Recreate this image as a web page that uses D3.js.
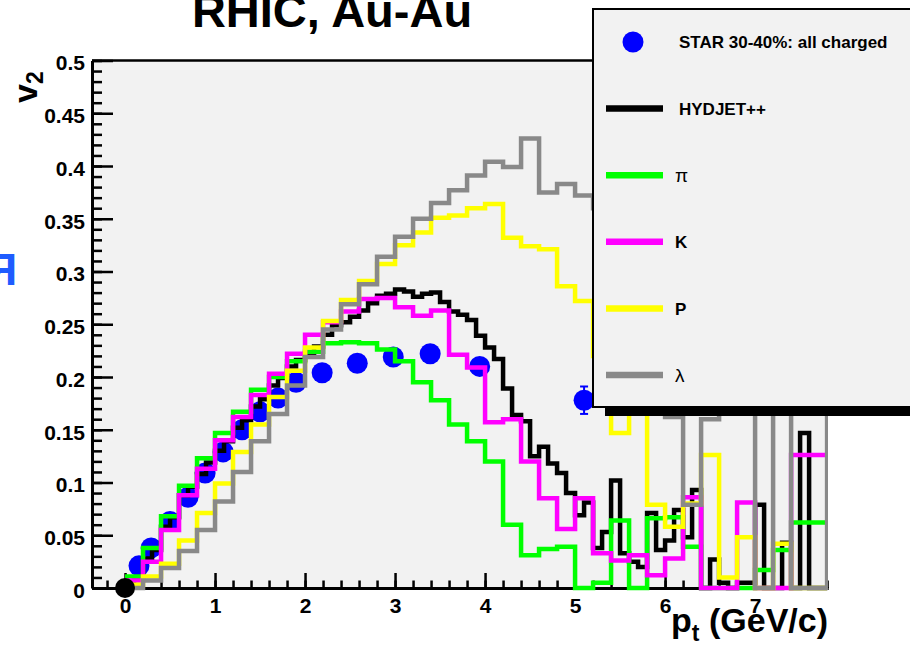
<!DOCTYPE html>
<html lang="en">
<head>
<meta charset="UTF-8">
<title>RHIC, Au-Au v2</title>
<script src="https://d3js.org/d3.v7.min.js"></script>
<style>
  body { margin: 0; background: #fff; }
  text { font-family: "Liberation Sans", Arial, Helvetica, sans-serif; }
</style>
</head>
<body>
<div id="chart"></div>
<script>
// STAR 30-40% all charged, measured points
const starPt  = [0.155, 0.29, 0.5, 0.7, 0.89, 1.09, 1.3, 1.5, 1.7, 1.9, 2.19, 2.58, 2.98, 3.39, 3.94, 5.1];
const starV2  = [0.021, 0.038, 0.063, 0.086, 0.109, 0.129, 0.150, 0.167, 0.180, 0.195, 0.204, 0.213, 0.219, 0.222, 0.210, 0.178];
const starErr = [0, 0, 0, 0, 0, 0, 0, 0, 0, 0, 0, 0, 0, 0, 0, 0.013];

// black point at the origin
const originPt = [0];
const originV2 = [0];

// HYDJET++ all charged, bins of 0.1 GeV/c starting at 0
const hydjetV2 = [
  0.004, 0.010, 0.028, 0.036, 0.058, 0.067, 0.088, 0.096, 0.108, 0.119,
  0.130, 0.139, 0.152, 0.159, 0.172, 0.179, 0.192, 0.199, 0.210, 0.216,
  0.222, 0.229, 0.240, 0.249, 0.252, 0.257, 0.263, 0.270, 0.277, 0.279,
  0.283, 0.281, 0.276, 0.279, 0.280, 0.271, 0.262, 0.259, 0.254, 0.239,
  0.228, 0.217, 0.189, 0.164, 0.158, 0.125, 0.134, 0.118, 0.109, 0.090,
  0.069, 0.081, 0.038, 0.053, 0.102, 0.033, 0.025, 0.020, 0.071, 0.036,
  0.045, 0.074, 0.048, 0.093, 0.000, 0.027, 0.005, 0.000, 0.005, 0.005,
  0.079, 0.000, 0.000, 0.043, 0.000, 0.147, 0.000, 0.000
];

// identified particles, bins of 0.2 GeV/c starting at 0
const pionV2 = [
  0.011, 0.038, 0.068, 0.097, 0.123, 0.147, 0.167, 0.188, 0.200, 0.215,
  0.224, 0.232, 0.233, 0.232, 0.226, 0.215, 0.195, 0.178, 0.155, 0.139,
  0.120, 0.060, 0.031, 0.037, 0.039, 0.000, 0.005, 0.064, 0.000, 0.066,
  0.067, 0.039, 0.000, 0.000, 0.000, 0.017, 0.036, 0.062, 0.062
];
const kaonV2 = [
  0.007, 0.025, 0.055, 0.088, 0.113, 0.140, 0.162, 0.183, 0.203, 0.222,
  0.240, 0.252, 0.262, 0.274, 0.275, 0.266, 0.258, 0.263, 0.221, 0.209,
  0.157, 0.160, 0.120, 0.085, 0.056, 0.085, 0.033, 0.026, 0.031, 0.012,
  0.028, 0.086, 0.000, 0.000, 0.081, 0.000, 0.000, 0.126, 0.126
];
const protonV2 = [
  0.003, 0.011, 0.023, 0.045, 0.071, 0.099, 0.129, 0.155, 0.181, 0.206,
  0.228, 0.253, 0.273, 0.291, 0.307, 0.325, 0.337, 0.351, 0.353, 0.360,
  0.364, 0.332, 0.324, 0.321, 0.286, 0.272, 0.220, 0.147, 0.210, 0.079,
  0.058, 0.080, 0.126, 0.010, 0.048, 0.000, 0.042, 0.000, 0.000
];
const lambdaV2 = [
  0.000, 0.007, 0.019, 0.035, 0.055, 0.082, 0.110, 0.139, 0.165, 0.192,
  0.219, 0.245, 0.269, 0.288, 0.314, 0.333, 0.350, 0.365, 0.377, 0.391,
  0.404, 0.399, 0.426, 0.375, 0.383, 0.372, 0.360, 0.330, 0.350, 0.280,
  0.162, 0.079, 0.160, 0.300, 0.250, 0.000, 0.300, 0.000, 0.000, 0.300
];

const yTicks = [0, 0.05, 0.1, 0.15, 0.2, 0.25, 0.3, 0.35, 0.4, 0.45, 0.5];
const yTickLabels = ["0", "0.05", "0.1", "0.15", "0.2", "0.25", "0.3", "0.35", "0.4", "0.45", "0.5"];
const xTicks = [0, 1, 2, 3, 4, 5, 6, 7];
const legendLabels = ["STAR 30-40%: all charged", "HYDJET++", "\u03c0", "K", "P", "\u03bb"];

const width = 910, height = 652;
const frame = { left: 92, right: 828, top: 60.5, bottom: 588 };

const svg = d3.select("#chart").append("svg")
  .attr("width", width)
  .attr("height", height)
  .style("display", "block");

svg.append("rect").attr("width", width).attr("height", height).attr("fill", "#fff");

// scales
const x = d3.scaleLinear().domain([-0.367, 7.81]).range([frame.left, frame.right]);
const y = d3.scaleLinear().domain([0, 0.5]).range([frame.bottom, frame.top]);

// frame background
svg.append("rect")
  .attr("x", frame.left).attr("y", frame.top)
  .attr("width", frame.right - frame.left)
  .attr("height", frame.bottom - frame.top)
  .attr("fill", "#f2f2f2");

svg.append("clipPath").attr("id", "clip")
  .append("rect")
  .attr("x", frame.left).attr("y", frame.top)
  .attr("width", frame.right - frame.left)
  .attr("height", frame.bottom - frame.top + 4);

// y axis: minor and major ticks drawn inside the frame
svg.append("g")
  .attr("transform", `translate(${frame.left},0)`)
  .call(d3.axisLeft(y).tickValues(d3.range(0, 0.5001, 0.01)).tickSize(-10).tickSizeOuter(0).tickFormat(""))
  .call(g => g.selectAll("line").attr("stroke-width", 2.5));

const yAxis = svg.append("g")
  .attr("transform", `translate(${frame.left},0)`)
  .call(d3.axisLeft(y).tickValues(yTicks).tickSize(-21).tickSizeOuter(0).tickPadding(7)
    .tickFormat((d, i) => yTickLabels[i]));
yAxis.select(".domain").attr("stroke-width", 3);
yAxis.selectAll("line").attr("stroke-width", 2.5);
yAxis.selectAll("text")
  .attr("font-size", 21).attr("font-weight", "bold")
  .attr("font-family", "Liberation Sans, Arial, sans-serif")
  .attr("dy", "0.45em");

// x axis
svg.append("g")
  .attr("transform", `translate(0,${frame.bottom})`)
  .call(d3.axisBottom(x).tickValues(d3.range(-0.2, 7.81, 0.2)).tickSize(-7.5).tickSizeOuter(0).tickFormat(""))
  .call(g => g.selectAll("line").attr("stroke-width", 2.5))
  .call(g => g.select(".domain").attr("stroke-width", 3));

const xAxis = svg.append("g")
  .attr("transform", `translate(0,${frame.bottom})`)
  .call(d3.axisBottom(x).tickValues(xTicks).tickSize(-15).tickSizeOuter(0).tickPadding(10).tickFormat(d3.format("d")));
xAxis.select(".domain").attr("stroke-width", 3);
xAxis.selectAll("line").attr("stroke-width", 2.5);
xAxis.selectAll("text")
  .attr("font-size", 21).attr("font-weight", "bold")
  .attr("font-family", "Liberation Sans, Arial, sans-serif");

// top frame border
svg.append("line")
  .attr("x1", frame.left).attr("x2", frame.right)
  .attr("y1", frame.top).attr("y2", frame.top)
  .attr("stroke", "#000").attr("stroke-width", 2.5);

const plot = svg.append("g").attr("clip-path", "url(#clip)");

// STAR points
const star = starPt.map((p, i) => ({ p, v: starV2[i], e: starErr[i] }));
plot.selectAll(".err")
  .data(star.filter(d => d.e > 0))
  .enter().append("g")
  .each(function(d) {
    const g = d3.select(this);
    g.append("line")
      .attr("x1", x(d.p)).attr("x2", x(d.p))
      .attr("y1", y(d.v - d.e)).attr("y2", y(d.v + d.e))
      .attr("stroke", "#0000ff").attr("stroke-width", 2);
    [d.v - d.e, d.v + d.e].forEach(v => {
      g.append("line")
        .attr("x1", x(d.p) - 4).attr("x2", x(d.p) + 4)
        .attr("y1", y(v)).attr("y2", y(v))
        .attr("stroke", "#0000ff").attr("stroke-width", 2);
    });
  });

plot.selectAll(".star")
  .data(star)
  .enter().append("circle")
  .attr("class", "star")
  .attr("cx", d => x(d.p))
  .attr("cy", d => y(d.v))
  .attr("r", 10.5)
  .attr("fill", "#0000ff");

// histograms as step outlines
const stepLine = d3.line()
  .x(d => x(d[0]))
  .y(d => y(d[1]))
  .curve(d3.curveStepAfter);

function stepPoints(values, binWidth) {
  const pts = values.map((v, i) => [i * binWidth, v]);
  pts.push([values.length * binWidth, values[values.length - 1]]);
  return pts;
}

const series = [
  { values: hydjetV2, bin: 0.1, color: "#000000" },
  { values: pionV2, bin: 0.2, color: "#00ff00" },
  { values: kaonV2, bin: 0.2, color: "#ff00ff" },
  { values: protonV2, bin: 0.2, color: "#ffff00" },
  { values: lambdaV2, bin: 0.2, color: "#898989" }
];

series.forEach(s => {
  plot.append("path")
    .attr("d", stepLine(stepPoints(s.values, s.bin)))
    .attr("fill", "none")
    .attr("stroke", s.color)
    .attr("stroke-width", 4.5)
    .attr("stroke-linejoin", "miter");
});

// origin point
svg.selectAll(".origin")
  .data(originPt)
  .enter().append("circle")
  .attr("cx", d => x(d))
  .attr("cy", (d, i) => y(originV2[i]))
  .attr("r", 10)
  .attr("fill", "#000");

// legend with shadow
svg.append("rect")
  .attr("x", 605).attr("y", 18).attr("width", 330).attr("height", 398)
  .attr("fill", "#000");
svg.append("rect")
  .attr("x", 593).attr("y", 9).attr("width", 330).attr("height", 398)
  .attr("fill", "#f2f2f2").attr("stroke", "#000").attr("stroke-width", 2);

const legendY = d3.scalePoint().domain(legendLabels).range([42, 375]);
const legendColors = ["#0000ff", "#000000", "#00ff00", "#ff00ff", "#ffff00", "#898989"];

legendLabels.forEach((label, i) => {
  const ly = legendY(label);
  if (i === 0) {
    svg.append("circle").attr("cx", 633).attr("cy", ly).attr("r", 10.5).attr("fill", legendColors[i]);
  } else {
    svg.append("line")
      .attr("x1", 606).attr("x2", 663)
      .attr("y1", ly).attr("y2", ly)
      .attr("stroke", legendColors[i]).attr("stroke-width", 6.5);
  }
  const greek = (label === "\u03c0" || label === "\u03bb");
  svg.append("text")
    .attr("x", i < 2 ? 679 : 675)
    .attr("y", ly)
    .attr("dy", "0.36em")
    .attr("font-size", greek ? 19 : 17)
    .attr("font-weight", greek ? "normal" : "bold")
    .attr("font-family", greek ? "Liberation Serif, DejaVu Serif, serif" : "Liberation Sans, Arial, sans-serif")
    .text(label);
});

// title (cut at top edge)
svg.append("text")
  .attr("x", 332).attr("y", 27)
  .attr("text-anchor", "middle")
  .attr("font-size", 47).attr("font-weight", "bold")
  .text("RHIC, Au-Au");

// y title
const yTitle = svg.append("text")
  .attr("transform", "translate(37,103) rotate(-90)")
  .attr("font-size", 34).attr("font-weight", "bold");
yTitle.append("tspan").text("v");
yTitle.append("tspan").attr("font-size", 23).attr("dy", 6).text("2");

// x title
const xTitle = svg.append("text")
  .attr("x", 828).attr("y", 632)
  .attr("text-anchor", "end")
  .attr("font-size", 34).attr("font-weight", "bold");
xTitle.append("tspan").text("p");
xTitle.append("tspan").attr("font-size", 23).attr("dy", 9).text("t");
xTitle.append("tspan").attr("dy", -9).text(" (GeV/c)");

// piece of a neighbouring label cut by the left edge
svg.append("text")
  .attr("x", 17).attr("y", 285)
  .attr("text-anchor", "end")
  .attr("font-size", 44)
  .attr("font-weight", "bold")
  .attr("fill", "#1f5cff")
  .text("\u042f");
</script>
</body>
</html>
